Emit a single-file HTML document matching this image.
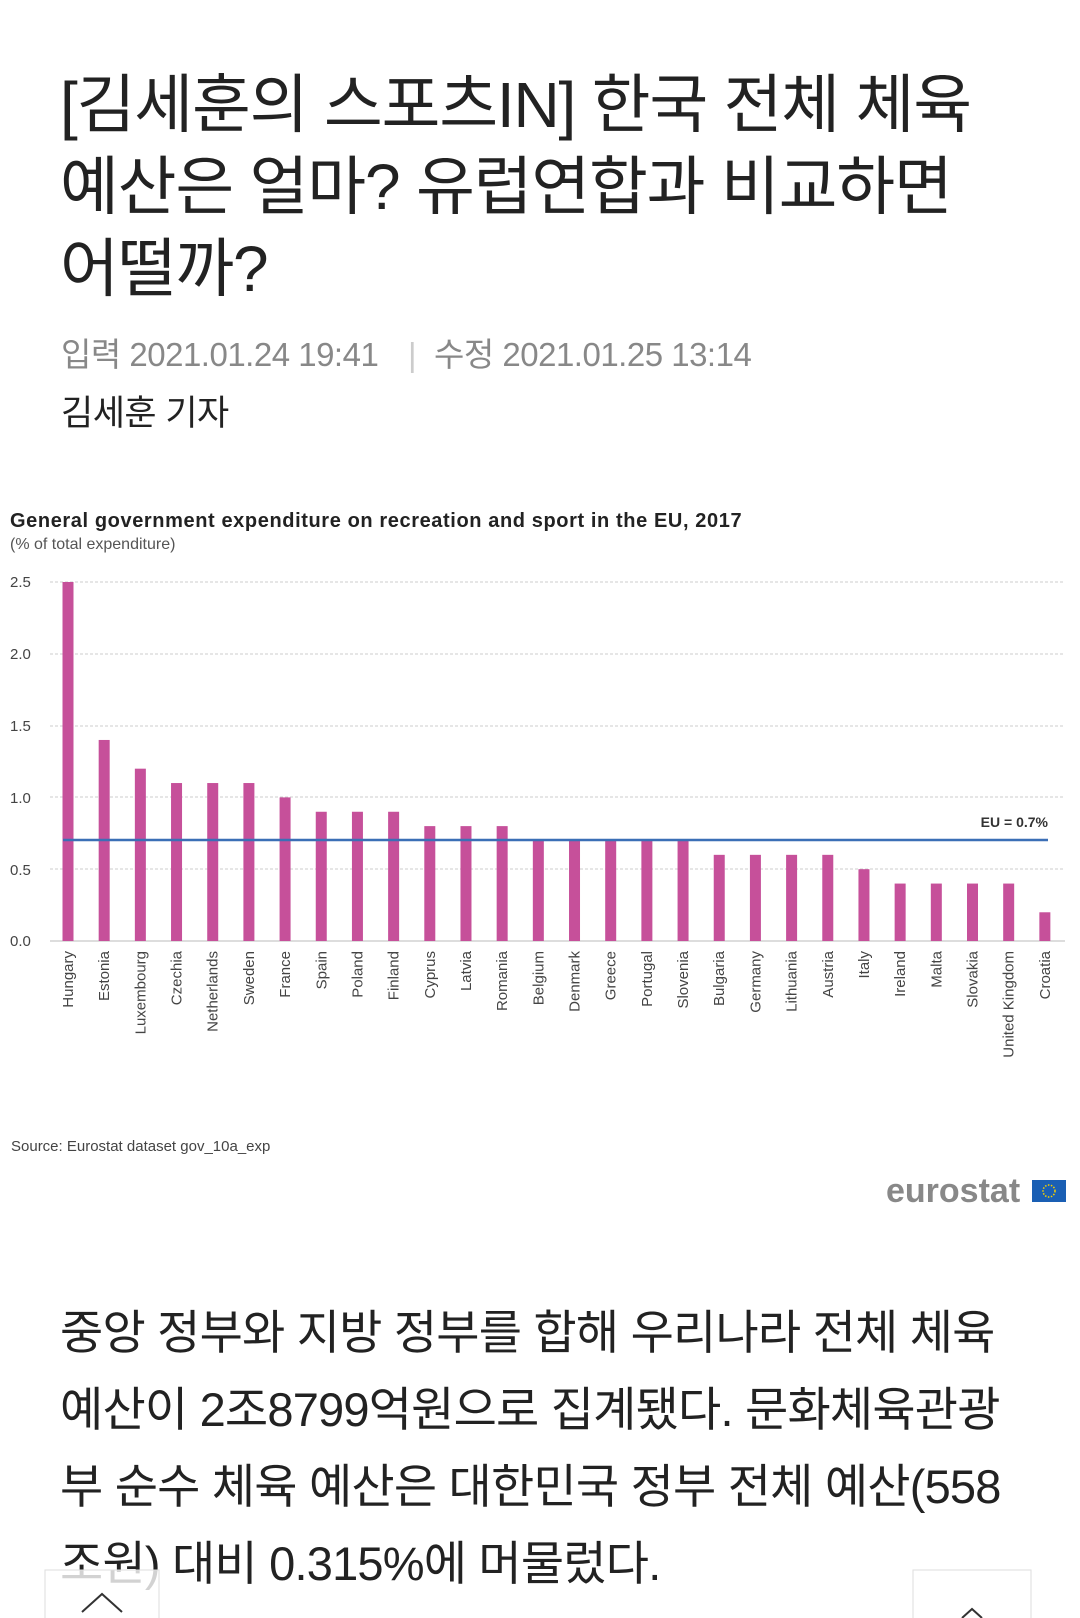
<!DOCTYPE html>
<html><head><meta charset="utf-8"><style>
html,body{margin:0;padding:0;background:#fff;width:1080px;height:1618px;overflow:hidden}
svg{display:block}
.k{font-family:"Liberation Sans","Noto Sans CJK KR",sans-serif}
</style></head><body>
<svg width="1080" height="1618" viewBox="0 0 1080 1618" xmlns="http://www.w3.org/2000/svg">
<g class="k" fill="#222" font-size="64" letter-spacing="-1.2">
<text x="60" y="127">[김세훈의 스포츠IN] 한국 전체 체육</text>
<text x="60" y="209">예산은 얼마? 유럽연합과 비교하면</text>
<text x="60" y="291">어떨까?</text>
</g>
<g class="k" font-size="33" fill="#888" letter-spacing="-0.5">
<text x="61" y="366">입력 2021.01.24 19:41</text>
<text x="408" y="366" fill="#ccc">|</text>
<text x="434" y="366">수정 2021.01.25 13:14</text>
</g>
<text class="k" x="61" y="425" font-size="35" fill="#222" letter-spacing="-0.5">김세훈 기자</text>

<g font-family="Liberation Sans, sans-serif">
<text x="10" y="527" font-size="20" font-weight="bold" fill="#222" letter-spacing="0.6">General government expenditure on recreation and sport in the EU, 2017</text>
<text x="10" y="549" font-size="16" fill="#555">(% of total expenditure)</text>
<g font-size="15" fill="#444">
<text x="10" y="587">2.5</text><text x="10" y="659">2.0</text><text x="10" y="731">1.5</text>
<text x="10" y="803">1.0</text><text x="10" y="875">0.5</text><text x="10" y="946">0.0</text>
</g>
<g stroke="#ccc" stroke-dasharray="3,2" stroke-width="1">
<line x1="50" y1="582" x2="1065" y2="582"/><line x1="50" y1="654" x2="1065" y2="654"/>
<line x1="50" y1="726" x2="1065" y2="726"/><line x1="50" y1="797" x2="1065" y2="797"/>
<line x1="50" y1="869" x2="1065" y2="869"/>
</g>
<line x1="50" y1="941" x2="1065" y2="941" stroke="#bbb"/>
<g fill="#c6509a" id="bars"></g>
<line x1="63" y1="840" x2="1048" y2="840" stroke="#3b6fb6" stroke-width="2.5"/>
<text x="1048" y="827" font-size="14" font-weight="bold" fill="#333" text-anchor="end">EU = 0.7%</text>
<g id="labels" font-size="15" fill="#444"></g>
<text x="11" y="1151" font-size="15" fill="#444">Source: Eurostat dataset gov_10a_exp</text>
<text x="886" y="1202" font-size="34" font-weight="bold" fill="#888">eurostat</text>
<rect x="1032" y="1180" width="34" height="22" fill="#1a5fb4"/>
<circle cx="1049" cy="1191" r="6" fill="none" stroke="#f5d000" stroke-width="1.5" stroke-dasharray="1.5,1.5"/>
</g>

<g class="k" fill="#222" font-size="47" letter-spacing="-0.8">
<text x="60" y="1349">중앙 정부와 지방 정부를 합해 우리나라 전체 체육</text>
<text x="60" y="1426">예산이 2조8799억원으로 집계됐다. 문화체육관광</text>
<text x="60" y="1503">부 순수 체육 예산은 대한민국 정부 전체 예산(558</text>
<text x="60" y="1580">조원) 대비 0.315%에 머물렀다.</text>
</g>
<rect x="45" y="1570" width="114" height="52" fill="#fff" fill-opacity="0.8" stroke="#ddd"/>
<polyline points="82,1612 102,1594 122,1612" fill="none" stroke="#333" stroke-width="2"/>
<rect x="913" y="1570" width="118" height="52" fill="#fff" stroke="#ddd"/>
<polyline points="962,1618 972,1609 982,1618" fill="none" stroke="#333" stroke-width="2"/>
</svg>
<script>
var d=[["Hungary",2.5],["Estonia",1.4],["Luxembourg",1.2],["Czechia",1.1],["Netherlands",1.1],["Sweden",1.1],["France",1.0],["Spain",.9],["Poland",.9],["Finland",.9],["Cyprus",.8],["Latvia",.8],["Romania",.8],["Belgium",.7],["Denmark",.7],["Greece",.7],["Portugal",.7],["Slovenia",.7],["Bulgaria",.6],["Germany",.6],["Lithuania",.6],["Austria",.6],["Italy",.5],["Ireland",.4],["Malta",.4],["Slovakia",.4],["United Kingdom",.4],["Croatia",.2]];
var ns="http://www.w3.org/2000/svg",b=document.getElementById("bars"),l=document.getElementById("labels");
d.forEach(function(e,i){var x=68+i*36.18,h=e[1]*143.6;
var r=document.createElementNS(ns,"rect");r.setAttribute("x",x-5.5);r.setAttribute("y",941-h);r.setAttribute("width",11);r.setAttribute("height",h);b.appendChild(r);
var t=document.createElementNS(ns,"text");t.setAttribute("transform","translate("+(x+5)+",951) rotate(-90)");t.setAttribute("text-anchor","end");t.textContent=e[0];l.appendChild(t);});
</script>
</body></html>
